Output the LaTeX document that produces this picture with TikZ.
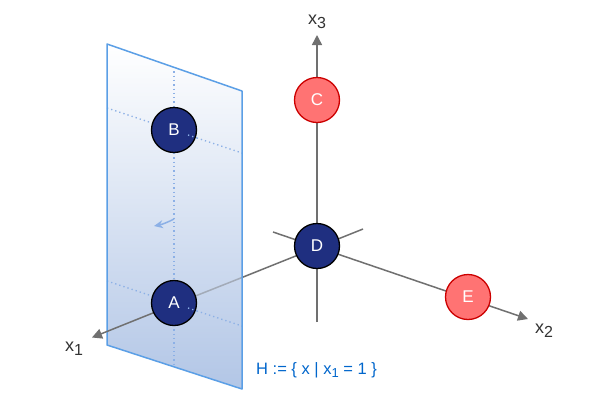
\documentclass[tikz,border=0pt]{standalone}
\usepackage{fontspec}
\setmainfont{Liberation Sans}
\usetikzlibrary{arrows.meta,calc}
\definecolor{axisgray}{HTML}{707070}
\definecolor{throughgray}{HTML}{A3ABB8}
\definecolor{planeblue}{HTML}{5B9FE6}
\definecolor{planeend}{HTML}{B2C6E6}
\definecolor{dotblue}{HTML}{8CB0E6}
\definecolor{navy}{HTML}{1F2F80}
\definecolor{redfill}{HTML}{FF7373}
\definecolor{redline}{HTML}{CC0000}
\definecolor{labelblue}{HTML}{0066CC}
\definecolor{labelgray}{HTML}{333333}
\tikzset{
  x=1pt,y=-1pt,
  axisline/.style={draw=axisgray,line width=1.5pt},
  axisarrow/.style={axisline,-{Triangle[length=10pt,width=10pt]}},
  dotline/.style={draw=dotblue,line width=1.3pt,dash pattern=on 1.3pt off 3pt},
  bluepoint/.style={circle,draw=black,line width=1.3pt,fill=navy,minimum size=45pt,inner sep=0pt,text=white,font=\fontsize{17}{17}\selectfont},
  redpoint/.style={circle,draw=redline,line width=1.3pt,fill=redfill,minimum size=45pt,inner sep=0pt,text=white,font=\fontsize{17}{17}\selectfont},
  axislabel/.style={text=labelgray,font=\fontsize{18}{18}\selectfont,inner sep=0pt},
}
\begin{document}
\begin{tikzpicture}
\useasboundingbox (0,0) rectangle (600,400);
\fill[white] (0,0) rectangle (600,400);
% axis end points
\coordinate (x3a) at (317,322);
\coordinate (x3b) at (317,35);
\coordinate (x1a) at (363,229);
\coordinate (x1b) at (92,337.5);
\coordinate (x2a) at (273,232);
\coordinate (x2b) at (528,319);
\coordinate (x1in) at (242,277.5);
\coordinate (x1mid) at (174,304.5);
% plane corners
\coordinate (p1) at (107,44);
\coordinate (p2) at (242,91);
\coordinate (p3) at (242,389);
\coordinate (p4) at (107,345);
% dotted grid end points
\coordinate (vt) at (174,67);
\coordinate (vb) at (174,367);
\coordinate (ba) at (107,108);
\coordinate (bb) at (242,153);
\coordinate (aa) at (107,281);
\coordinate (ab) at (242,326);
\coordinate (bin) at (188,135);
\coordinate (bout) at (197,138);
\coordinate (ain) at (188,308);
\coordinate (aout) at (197,311);
\coordinate (tipa) at (174,219);
\coordinate (tipb) at (154,226);
% axes
\draw[axisarrow] (x3a) -- (x3b);
\draw[axisarrow] (x2a) -- (x2b);
\draw[axisline] (x1a) -- (x1in);
% plane
\shade[top color=white,bottom color=planeend,shading angle=0] (p1) -- (p2) -- (p3) -- (p4) -- cycle;
\draw[draw=throughgray,line width=1.5pt] (x1in) -- (x1mid);
\draw[dotline] (vt) -- (vb);
\draw[dotline] (ba) -- (bb);
\draw[dotline] (aa) -- (ab);
\draw[draw=dotblue,line width=1.5pt,-{Stealth[length=9pt,width=8pt]}] (tipa) to[bend left=8] (tipb);
\draw[draw=planeblue,line width=1.5pt,line join=round] (p1) -- (p2) -- (p3) -- (p4) -- cycle;
\draw[axisarrow] (x1mid) -- (x1b);
% points
\node[bluepoint] (B) at (174,130) {B};
\node[bluepoint] (A) at (174,303) {A};
\node[bluepoint] (D) at (317,246) {D};
\node[redpoint] (C) at (317,100) {C};
\node[redpoint] (E) at (468,297) {E};
% dotted lines faintly over the circles
\draw[dotline] (bin) -- (bout);
\draw[dotline] (ain) -- (aout);
% labels
\node[axislabel,anchor=base] (l3) at (317,24) {x\raisebox{-4pt}{\fontsize{16}{16}\selectfont 3}};
\node[axislabel,anchor=base] (l1) at (74,351) {x\raisebox{-4pt}{\fontsize{16}{16}\selectfont 1}};
\node[axislabel,anchor=base] (l2) at (544,333) {x\raisebox{-4pt}{\fontsize{16}{16}\selectfont 2}};
\node[text=labelblue,font=\fontsize{16.5}{16.5}\selectfont,inner sep=0pt,anchor=base west] (H) at (256,374) {H := \{ x | x\raisebox{-3.5pt}{\fontsize{13}{13}\selectfont 1} = 1 \}};
\end{tikzpicture}
\end{document}
